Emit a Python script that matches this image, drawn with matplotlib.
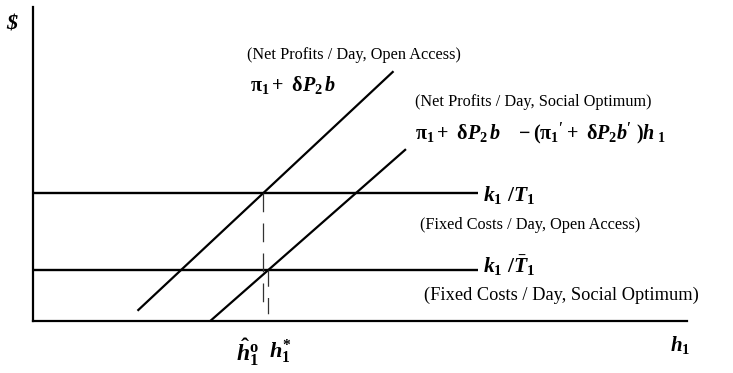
import numpy as np
import matplotlib.pyplot as plt

plt.rcParams['font.family'] = ['Liberation Serif', 'DejaVu Serif']
plt.rcParams['mathtext.fontset'] = 'custom'
plt.rcParams['mathtext.rm'] = 'Liberation Serif:bold'
plt.rcParams['mathtext.it'] = 'Liberation Serif:italic:bold'
plt.rcParams['mathtext.bf'] = 'Liberation Serif:bold'

# axis ranges (arbitrary units)
x_max = 10.0
y_max = 10.0

# fixed cost levels per day and how far they run to the right
cost_open = 4.08
cost_social = 1.62
cost_end = 6.8

# net profit lines: (x, y) end points
open_x = [1.61, 5.50]
open_y = [0.35, 7.93]
social_x = [2.71, 5.69]
social_y = [0.0, 5.45]

font_sz = 11.7


def crossing(xs, ys, level):
    # x where a straight line through two points reaches a given y
    slope = (ys[1] - ys[0]) / (xs[1] - xs[0])
    return xs[0] + (level - ys[0]) / slope


h_open = crossing(open_x, open_y, cost_open)
h_social = crossing(social_x, social_y, cost_social)

fig = plt.figure(figsize=(7.33, 3.73), dpi=100)
ax = fig.add_axes([33 / 733, 52 / 373, 654 / 733, 314 / 373])
ax.set_xlim(0, x_max)
ax.set_ylim(0, y_max)
for side in ['top', 'right']:
    ax.spines[side].set_visible(False)
for side in ['left', 'bottom']:
    ax.spines[side].set_linewidth(1.6)
ax.set_xticks([])
ax.set_yticks([])

# cost lines
ax.plot([0, cost_end], [cost_open, cost_open], color='black', lw=1.7, solid_capstyle='butt')
ax.plot([0, cost_end], [cost_social, cost_social], color='black', lw=1.7, solid_capstyle='butt')

# profit lines
ax.plot(open_x, open_y, color='black', lw=1.6)
ax.plot(social_x, social_y, color='black', lw=1.6)

# drop lines at the two equilibria (drawn top down so the dash starts at the crossing)
ax.plot([h_open, h_open], [cost_open, 0.4], color='#333333', lw=0.9, dashes=(15, 9))
ax.plot([h_social, h_social], [cost_social, 0.1], color='#333333', lw=0.9, dashes=(13, 9))

# labels
ax.text(-0.33, 9.45, '$', fontsize=16, fontstyle='italic', fontweight='bold',
        ha='center', va='center', parse_math=False)

ax.text(3.27, 8.47, '(Net Profits / Day, Open Access)', fontsize=font_sz, ha='left', va='center')
ax.text(3.32, 7.5, r'$\mathrm{\pi}_{1}+\ \mathrm{\delta}P_{2}\,b$', fontsize=14.5, ha='left', va='center')

ax.text(5.84, 6.97, '(Net Profits / Day, Social Optimum)', fontsize=font_sz, ha='left', va='center')
ax.text(5.84, 5.97,
        r"$\mathrm{\pi}_{1}+\ \mathrm{\delta}P_{2}\,b\ \ \ -(\mathrm{\pi}_{1}{}^{\prime}+\ \mathrm{\delta}P_{2}b{}^{\prime}\ )h_{\ 1}$",
        fontsize=14.5, ha='left', va='center')

ax.text(6.88, 4.0, r'$k_{\mathrm{1}}\ /T_{\mathrm{1}}$', fontsize=15.5, ha='left', va='center')
ax.text(5.92, 3.06, '(Fixed Costs / Day, Open Access)', fontsize=font_sz, ha='left', va='center')
ax.text(6.88, 1.76, r'$k_{\mathrm{1}}\ /\bar{T}_{\mathrm{1}}$', fontsize=15.5, ha='left', va='center')
ax.text(5.98, 0.83, '(Fixed Costs / Day, Social Optimum)', fontsize=13.2, ha='left', va='center')

ax.text(h_open - 0.07, -1.0, r'$\hat{h}_{\mathrm{1}}^{\mathrm{o}}$', fontsize=17, ha='right', va='center')
ax.text(h_social + 0.02, -0.98, r'$h_{\mathrm{1}}^{*}$', fontsize=16, ha='left', va='center')
ax.text(9.74, -0.76, r'$h_{\mathrm{1}}$', fontsize=15, ha='left', va='center')

fig.savefig('out.png', dpi=100)
